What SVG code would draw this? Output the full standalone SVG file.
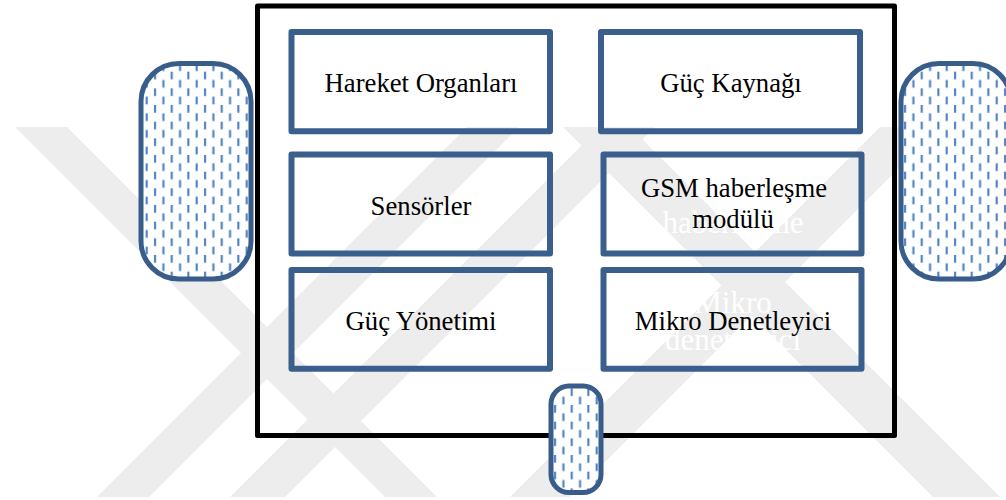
<svg xmlns="http://www.w3.org/2000/svg" width="1006" height="500" viewBox="0 0 1006 500">
  <style>
    .band { fill: #ededed; }
    .ghost { font-family: "Liberation Serif", "Times New Roman", serif; font-size: 31px; fill: #ffffff; text-anchor: middle; }
    .box { fill: none; stroke: #3a5f8d; stroke-width: 6; stroke-linejoin: round; }
    .label { font-family: "Liberation Serif", "Times New Roman", serif; font-size: 26.7px; fill: #000000; text-anchor: middle; }
    .wheel-base { fill: #ffffff; }
    .wheel { fill: url(#dashes); stroke: #385d8a; stroke-width: 5; }
    .frame { fill: none; stroke: #000000; stroke-width: 5; stroke-linejoin: round; }
  </style>
  <defs>
    <!-- vertical dashed fill used for the wheels -->
    <pattern id="dashes" patternUnits="userSpaceOnUse" x="0" y="5" width="16.667" height="16.667">
      <rect x="4" y="0" width="2.1" height="7.7" fill="#4a7fc0"/>
      <rect x="12.33" y="8.33" width="2.1" height="7.7" fill="#4a7fc0"/>
    </pattern>
  </defs>

  <rect width="1006" height="500" fill="#ffffff"/>

  <!-- pale diagonal background bands -->
  <g id="background-bands">
    <polygon class="band" points="15,127 67,127 437,497 385,497"/>
    <polygon class="band" points="97,497 149,497 519,127 467,127"/>
    <polygon class="band" points="230,497 285,497 655,127 600,127"/>
    <polygon class="band" points="880,127 940,127 570,497 510,497"/>
    <polygon class="band" points="933,497 1000,497 630,127 563,127"/>
  </g>

  <!-- faint white lettering behind the right-hand modules -->
  <g id="ghost-text">
    <text class="ghost" x="733" y="196">GSM</text>
    <text class="ghost" x="733" y="233">haberleşme</text>
    <text class="ghost" x="733" y="313">Mikro</text>
    <text class="ghost" x="733" y="350">denetleyici</text>
  </g>

  <!-- chassis outline -->
  <g id="chassis">
    <rect class="frame" x="257.5" y="6" width="637" height="429.5"/>
  </g>

  <!-- wheels -->
  <g id="wheel-left">
    <rect class="wheel-base" x="141" y="63.5" width="110" height="215.5" rx="38"/>
    <rect class="wheel" x="141" y="63.5" width="110" height="215.5" rx="38"/>
  </g>
  <g id="wheel-right">
    <rect class="wheel-base" x="901" y="63.5" width="110" height="215.5" rx="38"/>
    <rect class="wheel" x="901" y="63.5" width="110" height="215.5" rx="38"/>
  </g>
  <g id="wheel-caster">
    <rect class="wheel-base" x="551" y="386" width="50" height="106.5" rx="18"/>
    <rect class="wheel" x="551" y="386" width="50" height="106.5" rx="18"/>
  </g>

  <!-- module blocks -->
  <g id="hareket-organlari">
    <rect class="box" x="291.5" y="32" width="258.5" height="99.3"/>
    <text class="label" x="421" y="92">Hareket Organları</text>
  </g>
  <g id="guc-kaynagi">
    <rect class="box" x="601" y="32" width="259" height="99.3"/>
    <text class="label" x="731" y="92">Güç Kaynağı</text>
  </g>
  <g id="sensorler">
    <rect class="box" x="291.5" y="154.5" width="258.5" height="99"/>
    <text class="label" x="421" y="215">Sensörler</text>
  </g>
  <g id="gsm-modulu">
    <rect class="box" x="603.5" y="154.5" width="258" height="99"/>
    <text class="label" x="734" y="197">GSM haberleşme</text>
    <text class="label" x="733" y="228">modülü</text>
  </g>
  <g id="guc-yonetimi">
    <rect class="box" x="291.5" y="270" width="258.5" height="98.8"/>
    <text class="label" x="421" y="330">Güç Yönetimi</text>
  </g>
  <g id="mikro-denetleyici">
    <rect class="box" x="603.5" y="270" width="258" height="98.8"/>
    <text class="label" x="733" y="330">Mikro Denetleyici</text>
  </g>

  <g id="connectors"/>
</svg>
